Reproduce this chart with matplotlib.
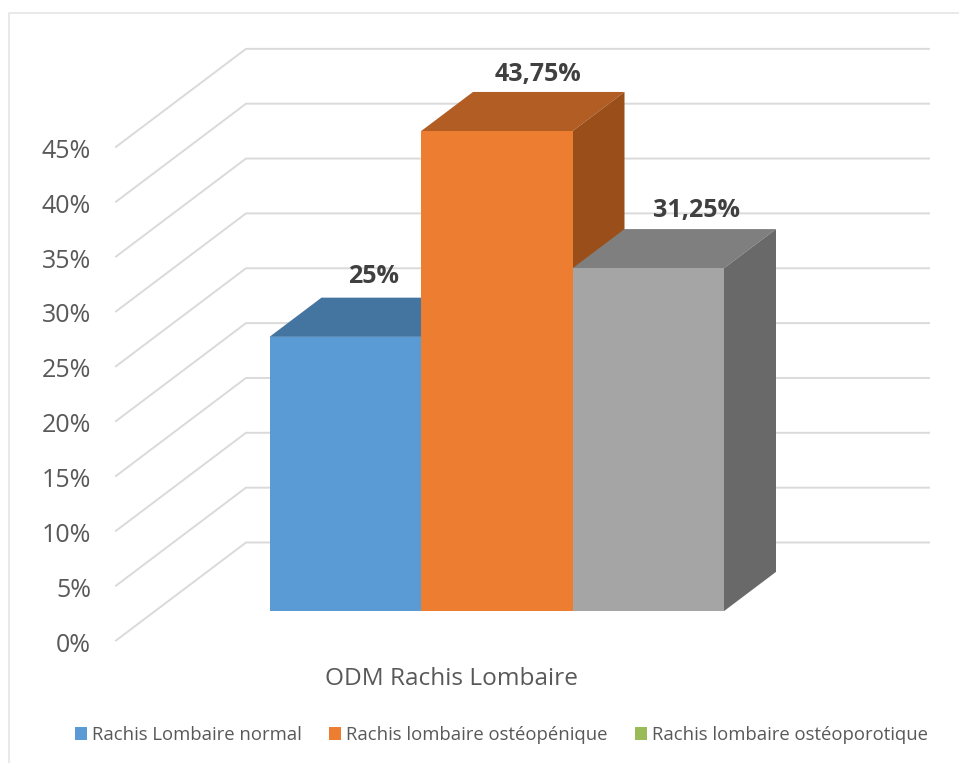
import matplotlib
matplotlib.use("Agg")
import matplotlib.pyplot as plt
from matplotlib.lines import Line2D
from matplotlib.patches import Patch
from matplotlib.transforms import ScaledTranslation

plt.rcParams["font.family"] = ["Open Sans", "DejaVu Sans"]

# Données
series_names = ["Rachis Lombaire normal", "Rachis lombaire ostéopénique", "Rachis lombaire ostéoporotique"]
values = [25, 43.75, 31.25]
tick_values = [0, 5, 10, 15, 20, 25, 30, 35, 40, 45]
category = "ODM Rachis Lombaire"

# Couleurs : face, dessus, côté
front_colors = ["#5B9BD5", "#ED7D31", "#A5A5A5"]
top_colors = ["#4474A0", "#B15D24", "#7F7F7F"]
side_colors = ["#3B6690", "#9A4F1B", "#696969"]
legend_colors = ["#5B9BD5", "#ED7D31", "#9BBB59"]
GRID = "#DADADA"
TEXT = "#595959"

# Décalage du plan arrière (perspective oblique), en unités de données
DEPTH_X = 130 / 151.5
DEPTH_Y = 98 / 10.97
BAR_FRONT = 0.3
BAR_BACK = 0.7

W, H = 959, 763
fig = plt.figure(figsize=(W / 100, H / 100), dpi=100)
ax = fig.add_axes([116 / W, (H - 640.5) / H, (929 - 116) / W, (640.5 - 48) / H])
ax.set_xlim(-153.5 / 151.5, 659.5 / 151.5)
ax.set_ylim(0, 592.5 / 10.97)
for s in ax.spines.values():
    s.set_visible(False)

# Grille : diagonale sur la paroi gauche puis horizontale au fond
x_left, x_right = ax.get_xlim()
for t in tick_values:
    ax.plot([x_left, x_left + DEPTH_X, x_right], [t, t + DEPTH_Y, t + DEPTH_Y],
            color=GRID, lw=1.4, zorder=1, clip_on=False)

# Barres 3D
label_dx = [28, 41, 48]
label_dy = [60, 57, 58]
base = BAR_FRONT * DEPTH_Y
dx = (BAR_BACK - BAR_FRONT) * DEPTH_X
dy = (BAR_BACK - BAR_FRONT) * DEPTH_Y
for i, v in enumerate(values):
    x0, x1 = i, i + 1
    top = base + v
    z = 2 + i
    ax.fill([x0, x1, x1 + dx, x0 + dx], [top, top, top + dy, top + dy], color=top_colors[i], lw=0, zorder=z)
    ax.fill([x1, x1 + dx, x1 + dx, x1], [base, base + dy, top + dy, top], color=side_colors[i], lw=0, zorder=z)
    ax.fill([x0, x1, x1, x0], [base, base, top, top], color=front_colors[i], lw=0, zorder=z + 0.5)
    ax.annotate(f"{v:g}%".replace(".", ","), xy=(x0 + 0.5, top),
                xytext=(label_dx[i] * 0.72, label_dy[i] * 0.72), textcoords="offset points",
                ha="center", va="center", fontsize=18, fontweight="bold", color="#404040", zorder=10)

# Axes
ax.set_yticks(tick_values)
ax.set_yticklabels([f"{t}%" for t in tick_values], fontsize=18, color=TEXT)
ax.tick_params(axis="y", length=0, pad=18)
shift = ScaledTranslation(0, -1.5 / 100, fig.dpi_scale_trans)
for lab in ax.get_yticklabels():
    lab.set_transform(lab.get_transform() + shift)
ax.set_xticks([(451.5 - 269.5) / 151.5])
ax.set_xticklabels([category], fontsize=17.6, color=TEXT)
ax.tick_params(axis="x", length=0, pad=19)

# Légende
handles = [Patch(facecolor=c) for c in legend_colors]
fig.legend(handles, series_names, loc="center", bbox_to_anchor=(501.5 / W, (H - 735) / H), ncol=3, frameon=False,
           fontsize=13.3, labelcolor=TEXT, handlelength=0.65, handleheight=0.65, handletextpad=0.27,
           columnspacing=1.5, borderpad=0, borderaxespad=0)

# Cadre du graphique
fig.add_artist(Line2D([9 / W, 9 / W, 1], [0, (H - 13) / H, (H - 13) / H], color="#E3E3E3", lw=1.1))

plt.savefig("out.png", dpi=100)
plt.close()
